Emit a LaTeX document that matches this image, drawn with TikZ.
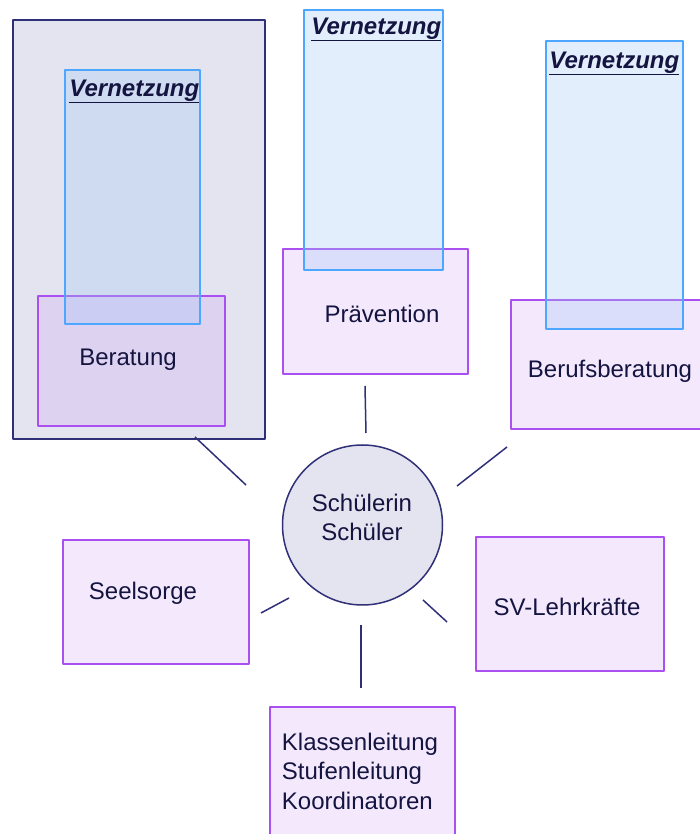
\documentclass[tikz,border=0pt]{standalone}
\usepackage{fontspec}
\setmainfont{Liberation Sans}
\definecolor{navy}{RGB}{48,48,120}
\definecolor{ink}{RGB}{20,20,64}
\definecolor{lav}{RGB}{228,228,240}
\definecolor{netblue}{RGB}{160,200,245}
\definecolor{netedge}{RGB}{77,166,255}
\definecolor{roleedge}{RGB}{170,80,240}
\definecolor{rolefill}{RGB}{200,140,245}
\newcommand{\boxfont}{\fontsize{24bp}{29.5bp}\selectfont}

\begin{document}
\begin{tikzpicture}[line join=bevel,
  outerbox/.style={draw=navy, fill=lav, line width=1.5bp, inner sep=0pt},
  netbox/.style={draw=netedge, line width=1.5bp, fill=netblue, fill opacity=0.3, inner sep=0pt},
  rolebox/.style={draw=roleedge, line width=1.5bp, fill=rolefill, fill opacity=0.2, inner sep=0pt},
  nettext/.style={anchor=base west, inner sep=0pt, text=ink, font=\boxfont\bfseries\itshape},
  roletext/.style={text=ink, inner sep=0pt, align=center, font=\boxfont},
  spoke/.style={draw=navy, line width=1.5bp}]
  \useasboundingbox (0bp,0bp) rectangle (700bp,834bp);
%%
  % Node: Beratung, in its frame
  \node[outerbox, minimum width=252bp, minimum height=419bp] (stage) at (139bp,604.5bp) {};
  \node[rolebox, minimum width=187bp, minimum height=130bp] (berat) at (131.5bp,473bp) {};
  \node[roletext] (berattxt) at (128bp,474bp) {Beratung};
  \node[netbox, minimum width=135bp, minimum height=254bp] (netA) at (132.5bp,637bp) {};
  \node[nettext] (netAtxt) at ([shift={(5bp,-27bp)}]netA.north west) {\underline{Vernetzung}};
  % Node: Prävention
  \node[rolebox, minimum width=185bp, minimum height=125bp] (praev) at (375.5bp,522.5bp) {};
  \node[roletext] (praevtxt) at (382bp,520bp) {Prävention};
  \node[netbox, minimum width=139bp, minimum height=260bp] (netB) at (373.5bp,694bp) {};
  \node[nettext] (netBtxt) at ([shift={(8bp,-25bp)}]netB.north west) {\underline{Vernetzung}};
  % Node: Berufsberatung
  \node[rolebox, minimum width=190bp, minimum height=129bp] (beruf) at (606bp,469.5bp) {};
  \node[roletext] (beruftxt) at (610bp,463bp) {Berufsberatung};
  \node[netbox, minimum width=137bp, minimum height=288bp] (netC) at (614.5bp,649bp) {};
  \node[nettext] (netCtxt) at ([shift={(4bp,-28bp)}]netC.north west) {\underline{Vernetzung}};
  % Node: Schülerin / Schüler
  \node[circle, draw=navy, fill=lav, line width=1.5bp, minimum size=160bp, inner sep=0pt] (kid) at (362.5bp,309bp) {};
  \node[roletext] (kidtxt) at (362bp,316.5bp) {Schülerin\\Schüler};
  % Node: Seelsorge
  \node[rolebox, minimum width=186bp, minimum height=124bp] (seel) at (156bp,232bp) {};
  \node[roletext] (seeltxt) at (143bp,241bp) {Seelsorge};
  % Node: SV-Lehrkräfte
  \node[rolebox, minimum width=188bp, minimum height=134bp] (svl) at (570bp,230bp) {};
  \node[roletext] (svltxt) at (567bp,227bp) {SV-Lehrkräfte};
  % Node: Klassenleitung
  \node[rolebox, minimum width=185bp, minimum height=143bp] (klass) at (362.5bp,55.5bp) {};
  \node[roletext, align=left] (klasstxt) at (360bp,63bp) {Klassenleitung\\Stufenleitung\\Koordinatoren};
%%
  \coordinate (sp1a) at (195bp,397bp);  \coordinate (sp1b) at (246bp,349bp);
  \coordinate (sp2a) at (365bp,448bp);  \coordinate (sp2b) at (366bp,401bp);
  \coordinate (sp3a) at (457bp,348bp);  \coordinate (sp3b) at (507bp,387bp);
  \coordinate (sp4a) at (261bp,221bp);  \coordinate (sp4b) at (289bp,236bp);
  \coordinate (sp5a) at (423bp,234bp);  \coordinate (sp5b) at (447bp,212bp);
  \coordinate (sp6a) at (361bp,209bp);  \coordinate (sp6b) at (361bp,146bp);
  % Edge: Beratung -- Schüler
  \draw[spoke] (sp1a) -- (sp1b);
  % Edge: Prävention -- Schüler
  \draw[spoke] (sp2a) -- (sp2b);
  % Edge: Berufsberatung -- Schüler
  \draw[spoke] (sp3a) -- (sp3b);
  % Edge: Seelsorge -- Schüler
  \draw[spoke] (sp4a) -- (sp4b);
  % Edge: SV-Lehrkräfte -- Schüler
  \draw[spoke] (sp5a) -- (sp5b);
  % Edge: Klassenleitung -- Schüler
  \draw[spoke] (sp6a) -- (sp6b);
%
\end{tikzpicture}
\end{document}
